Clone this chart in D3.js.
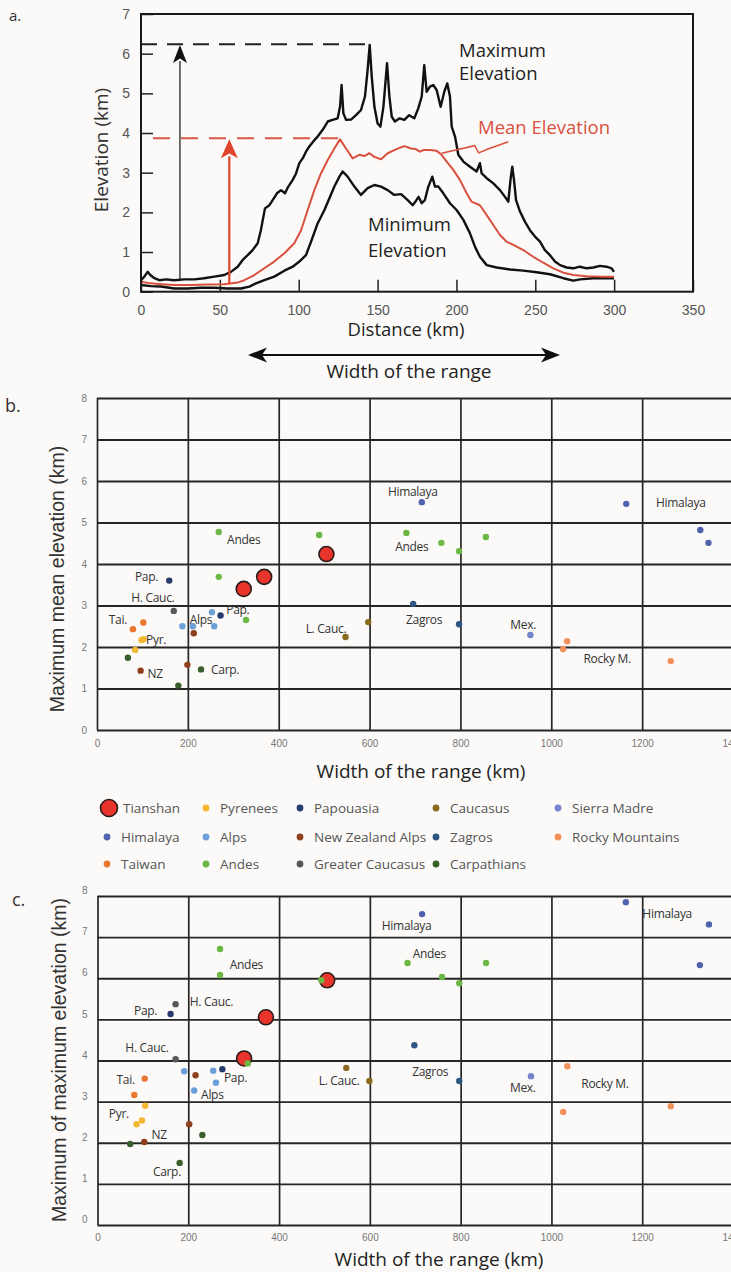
<!DOCTYPE html>
<html>
<head>
<meta charset="utf-8">
<script src="https://cdn.jsdelivr.net/npm/d3@7"></script>
<style>
  body { margin: 0; background: #fbfaf8; }
  svg { display: block; }
  .tickA text { font-family: "Liberation Sans Narrow", "Liberation Sans", sans-serif; font-size: 14px; fill: #555; }
  .tickB text { font-family: "Liberation Sans Narrow", "Liberation Sans", sans-serif; font-size: 10px; fill: #777; }
  .hum { font-family: "Open Sans", sans-serif; }
  .ari { font-family: "Liberation Sans", Arial, sans-serif; }
</style>
</head>
<body>
<svg id="fig" width="731" height="1272"></svg>
<script>
// ---------- panel a: swath profile (distance km, elevation km) ----------
var maxProfile = [[0,0.29],[2.1,0.38],[4.2,0.5],[5.9,0.42],[8.5,0.34],[11.6,0.29],[15.9,0.31],[21,0.29],
  [27.5,0.31],[33.8,0.31],[40,0.34],[46.5,0.38],[52.8,0.42],[57,0.5],[61.3,0.63],[64.5,0.8],[67.6,0.92],
  [70.8,1.05],[74,1.22],[76,1.55],[78.6,2.1],[81.4,2.18],[83.5,2.31],[86.2,2.48],[88.8,2.56],[91.3,2.48],
  [93.4,2.65],[96.2,2.82],[98.3,2.98],[100.4,3.24],[102.5,3.36],[104.6,3.53],[106.7,3.66],[109.9,3.82],
  [112,3.91],[115.2,4.08],[118.4,4.29],[121.5,4.33],[124.7,4.37],[126.2,4.66],[127.2,5.21],[128.3,4.5],
  [130,4.33],[133.2,4.34],[136.3,4.45],[139.5,4.58],[142,4.92],[143.7,5.59],[145,6.22],[146.3,5.42],
  [148,4.66],[150,4.24],[151.8,4.16],[153.7,4.66],[156,5.76],[157.5,4.92],[159,4.41],[161,4.29],
  [164,4.37],[167,4.33],[170,4.45],[173.3,4.37],[175.8,4.62],[178,4.92],[179.6,5.71],[181.1,5.04],
  [183.2,5.17],[185.3,5.21],[187.5,5.08],[190,4.66],[192.3,5.04],[194.2,5.25],[195.9,4.92],[197,4.16],
  [199.1,3.91],[201.2,3.45],[204.4,3.28],[208.6,3.15],[212.8,3.03],[214.9,3.24],[216,2.98],[219.2,2.86],
  [223.4,2.73],[227.6,2.56],[230.8,2.39],[232.9,2.27],[234.4,2.86],[235.4,3.15],[236.5,2.82],[237.8,2.31],
  [240.3,2.02],[243.5,1.76],[246.6,1.55],[249.8,1.39],[253,1.26],[256.1,1.05],[259.3,0.92],[262.5,0.76],
  [265.7,0.67],[269.9,0.61],[274.1,0.59],[278.3,0.63],[282.6,0.59],[286.8,0.61],[291,0.65],[295.2,0.63],
  [298.4,0.59],[299.9,0.5]];
var meanProfile = [[0,0.25],[6.3,0.21],[12.7,0.19],[21,0.17],[31.7,0.17],[42.3,0.18],[52.8,0.19],[61.3,0.23],
  [65.5,0.29],[71.9,0.42],[78.2,0.59],[84.5,0.76],[90.9,0.97],[97.2,1.22],[101.5,1.55],[105.7,2.06],
  [109.9,2.56],[114.1,2.98],[118.4,3.32],[122.6,3.61],[126.2,3.84],[130,3.61],[134.2,3.36],[138.4,3.45],
  [141.6,3.42],[144.8,3.49],[148,3.4],[152.2,3.34],[156.4,3.49],[160.6,3.57],[164.2,3.63],[167,3.67],
  [171.2,3.61],[174,3.6],[176.9,3.53],[179,3.57],[183.2,3.57],[187.5,3.55],[190.6,3.45],[193.8,3.28],
  [198,3.07],[202.2,2.82],[206.5,2.48],[209.6,2.27],[214.9,2.18],[219.2,1.93],[223.4,1.68],[227.6,1.43],
  [231.8,1.26],[236.1,1.18],[242.4,1.05],[248.7,0.88],[255.1,0.73],[261.4,0.59],[267.8,0.48],[274.1,0.42],
  [282.6,0.39],[291,0.38],[299.9,0.38]];
var minProfile = [[0,0.17],[6.3,0.14],[12.7,0.13],[21,0.08],[29.6,0.08],[38,0.1],[46.5,0.1],[55,0.08],
  [63.4,0.08],[68.7,0.13],[72.9,0.21],[78.2,0.29],[84.5,0.38],[90.9,0.53],[96.2,0.63],[100.4,0.76],
  [104.6,0.92],[107.8,1.26],[112,1.72],[116.3,2.06],[119.4,2.35],[122.6,2.65],[125.8,2.9],[127.9,3.03],
  [131,2.9],[135.3,2.65],[139.5,2.44],[143.7,2.61],[148,2.69],[152.2,2.65],[156.4,2.56],[160.6,2.44],
  [164.9,2.46],[169.1,2.31],[172.3,2.18],[174.5,2.3],[176,2.39],[178,2.23],[180,2.31],[182.2,2.65],
  [184.7,2.9],[186.4,2.65],[188.5,2.65],[191.7,2.48],[195.9,2.23],[200.1,2.06],[204.4,1.81],[208.6,1.47],
  [211.8,1.13],[214.9,0.88],[219.2,0.67],[225.5,0.61],[234,0.56],[242.4,0.53],[250.9,0.49],[259.3,0.44],
  [267.8,0.34],[274.1,0.28],[278.3,0.31],[286.8,0.34],[299.9,0.34]];
var peakMax = { level: 6.24, at: 145 };
var peakMean = { level: 3.87, at: 126 };
var distanceTicks = [0, 50, 100, 150, 200, 250, 300, 350];
var elevationTicks = [0, 1, 2, 3, 4, 5, 6, 7];

// ---------- panels b and c: ranges (width km, elevation km) ----------
var rangeNames = ["Tianshan", "Himalaya", "Taiwan", "Pyrenees", "Alps", "Andes", "Papouasia",
  "New Zealand Alps", "Greater Caucasus", "Caucasus", "Zagros", "Carpathians", "Sierra Madre", "Rocky Mountains"];

var meanElevation = [
  ["Tianshan", 505, 4.24], ["Tianshan", 323, 3.40], ["Tianshan", 368, 3.69],
  ["Himalaya", 715, 5.49], ["Himalaya", 1165, 5.45], ["Himalaya", 1328, 4.82], ["Himalaya", 1346, 4.51],
  ["Taiwan", 102, 2.59], ["Taiwan", 79, 2.43],
  ["Pyrenees", 98, 2.17], ["Pyrenees", 103, 2.19], ["Pyrenees", 84, 1.93],
  ["Alps", 188, 2.50], ["Alps", 211, 2.50], ["Alps", 253, 2.84], ["Alps", 258, 2.50],
  ["Andes", 268, 4.77], ["Andes", 489, 4.70], ["Andes", 681, 4.75], ["Andes", 758, 4.51],
  ["Andes", 797, 4.31], ["Andes", 856, 4.65], ["Andes", 268, 3.69], ["Andes", 328, 2.65],
  ["Papouasia", 159, 3.60], ["Papouasia", 272, 2.76],
  ["New Zealand Alps", 96, 1.43], ["New Zealand Alps", 213, 2.33], ["New Zealand Alps", 199, 1.57],
  ["Greater Caucasus", 169, 2.87],
  ["Caucasus", 547, 2.24], ["Caucasus", 597, 2.60],
  ["Zagros", 696, 3.04], ["Zagros", 797, 2.55],
  ["Carpathians", 68, 1.74], ["Carpathians", 229, 1.46], ["Carpathians", 179, 1.07],
  ["Sierra Madre", 954, 2.29],
  ["Rocky Mountains", 1035, 2.14], ["Rocky Mountains", 1026, 1.95], ["Rocky Mountains", 1263, 1.66]
];
var maxElevation = [
  ["Tianshan", 506, 5.95], ["Tianshan", 371, 5.05], ["Tianshan", 323, 4.05],
  ["Himalaya", 715, 7.56], ["Himalaya", 1164, 7.85], ["Himalaya", 1347, 7.31], ["Himalaya", 1327, 6.32],
  ["Taiwan", 104, 3.56], ["Taiwan", 81, 3.16],
  ["Pyrenees", 105, 2.90], ["Pyrenees", 98, 2.54], ["Pyrenees", 86, 2.45],
  ["Alps", 191, 3.74], ["Alps", 255, 3.75], ["Alps", 261, 3.46], ["Alps", 213, 3.27],
  ["Andes", 270, 6.71], ["Andes", 683, 6.37], ["Andes", 856, 6.37], ["Andes", 270, 6.08],
  ["Andes", 759, 6.03], ["Andes", 797, 5.88], ["Andes", 493, 5.95], ["Andes", 331, 3.93],
  ["Papouasia", 161, 5.13], ["Papouasia", 275, 3.79],
  ["New Zealand Alps", 103, 2.02], ["New Zealand Alps", 216, 3.64], ["New Zealand Alps", 202, 2.45],
  ["Greater Caucasus", 172, 5.37], ["Greater Caucasus", 172, 4.03],
  ["Caucasus", 548, 3.82], ["Caucasus", 599, 3.50],
  ["Zagros", 698, 4.37], ["Zagros", 797, 3.50],
  ["Carpathians", 72, 1.97], ["Carpathians", 231, 2.19], ["Carpathians", 181, 1.51],
  ["Sierra Madre", 955, 3.62],
  ["Rocky Mountains", 1035, 3.86], ["Rocky Mountains", 1026, 2.75], ["Rocky Mountains", 1263, 2.89]
];
var meanLabels = [["Himalaya", 695, 5.74], ["Himalaya", 1285, 5.48], ["Andes", 323, 4.58], ["Andes", 693, 4.42],
  ["Pap.", 109, 3.69], ["H. Cauc.", 123, 3.20], ["Tai.", 46, 2.67], ["Pyr.", 130, 2.17], ["Alps", 229, 2.65],
  ["Pap.", 310, 2.89], ["NZ", 128, 1.35], ["Carp.", 282, 1.45], ["L. Cauc.", 504, 2.45], ["Zagros", 720, 2.65],
  ["Mex.", 938, 2.53], ["Rocky M.", 1123, 1.73]];
var maxLabels = [["Himalaya", 681, 7.29], ["Himalaya", 1255, 7.57], ["Andes", 328, 6.34], ["Andes", 731, 6.59],
  ["H. Cauc.", 251, 5.43], ["Pap.", 106, 5.21], ["H. Cauc.", 109, 4.32], ["Tai.", 62, 3.54], ["Pap.", 304, 3.59],
  ["Alps", 253, 3.18], ["Pyr.", 47, 2.71], ["NZ", 136, 2.20], ["Carp.", 153, 1.30], ["L. Cauc.", 532, 3.51],
  ["Zagros", 733, 3.73], ["Mex.", 937, 3.35], ["Rocky M.", 1118, 3.43]];
var widthTicks = [0, 200, 400, 600, 800, 1000, 1200, 1400];
var scatterTicks = [0, 1, 2, 3, 4, 5, 6, 7, 8];

// colours per range
var colors = {
  "Tianshan": "#e8342b", "Himalaya": "#4f62ad", "Taiwan": "#e9772f", "Pyrenees": "#f4b731",
  "Alps": "#6d9fd8", "Andes": "#6cb844", "Papouasia": "#263a6e", "New Zealand Alps": "#8e3f1c",
  "Greater Caucasus": "#555955", "Caucasus": "#8a6a1c", "Zagros": "#2e5683", "Carpathians": "#3a5e2a",
  "Sierra Madre": "#7383cc", "Rocky Mountains": "#f2925a"
};

var svg = d3.select("#fig");
var intFmt = d3.format("d");

// ================= panel a =================
var xA = d3.scaleLinear().domain([0, 350]).range([141, 693]);
var yA = d3.scaleLinear().domain([0, 7]).range([291.7, 14]);

svg.append("text").attr("class", "hum").attr("x", 9).attr("y", 21)
  .attr("font-size", 15).attr("fill", "#333").text("a.");

var gA = svg.append("g");

gA.append("g").attr("class", "tickA")
  .attr("transform", "translate(0," + yA(0) + ")")
  .call(d3.axisBottom(xA).tickValues(distanceTicks).tickFormat(intFmt)
    .tickSizeInner(-12).tickSizeOuter(0).tickPadding(13))
  .call(function(g) { g.select(".domain").remove(); g.selectAll("line").attr("stroke", "#222").attr("stroke-width", 1.5); });

gA.append("g").attr("class", "tickA")
  .attr("transform", "translate(" + xA(0) + ",0)")
  .call(d3.axisLeft(yA).tickValues(elevationTicks).tickFormat(intFmt)
    .tickSizeInner(-12).tickSizeOuter(0).tickPadding(11))
  .call(function(g) { g.select(".domain").remove(); g.selectAll("line").attr("stroke", "#222").attr("stroke-width", 1.5); });

// dashed reference lines
gA.append("line")
  .attr("x1", xA(0)).attr("x2", xA(peakMax.at))
  .attr("y1", yA(peakMax.level)).attr("y2", yA(peakMax.level))
  .attr("stroke", "#222").attr("stroke-width", 2).attr("stroke-dasharray", "16,10");
gA.append("line")
  .attr("x1", xA(0)).attr("x2", xA(peakMean.at))
  .attr("y1", yA(peakMean.level)).attr("y2", yA(peakMean.level))
  .attr("stroke", "#d9574a").attr("stroke-width", 2).attr("stroke-dasharray", "17,11")
  .attr("stroke-dashoffset", -12);

var line = d3.line().x(function(d) { return xA(d[0]); }).y(function(d) { return yA(d[1]); });

gA.append("path").datum(maxProfile).attr("d", line)
  .attr("fill", "none").attr("stroke", "#111").attr("stroke-width", 2.4).attr("stroke-linejoin", "round");
gA.append("path").datum(minProfile).attr("d", line)
  .attr("fill", "none").attr("stroke", "#111").attr("stroke-width", 2.4).attr("stroke-linejoin", "round");
gA.append("path").datum(meanProfile).attr("d", line)
  .attr("fill", "none").attr("stroke", "#d9503f").attr("stroke-width", 2).attr("stroke-linejoin", "round");

// vertical arrows
function arrow(x, y0, y1, color, width, headLen, headHalf) {
  var px = xA(x), p0 = yA(y0), p1 = yA(y1);
  gA.append("line").attr("x1", px).attr("x2", px).attr("y1", p0).attr("y2", p1 + headLen - 2)
    .attr("stroke", color).attr("stroke-width", width);
  gA.append("path")
    .attr("d", "M" + px + "," + p1 + "L" + (px - headHalf) + "," + (p1 + headLen) +
      "L" + px + "," + (p1 + headLen * 0.75) + "L" + (px + headHalf) + "," + (p1 + headLen) + "Z")
    .attr("fill", color);
}
arrow(24.7, 0.29, peakMax.level - 0.02, "#111", 1.2, 18, 7);
arrow(56, 0.19, peakMean.level - 0.03, "#e0442c", 2.2, 19, 8.5);

// pointer from the mean curve to its label
var squiggle = [[190.6, 3.49], [211.6, 3.68], [214.1, 3.5], [219.6, 3.59], [232.9, 3.78]];
gA.append("path").datum(squiggle).attr("d", line)
  .attr("fill", "none").attr("stroke", "#d9503f").attr("stroke-width", 1.5);

// frame
gA.append("rect").attr("x", xA(0)).attr("y", yA(7))
  .attr("width", xA(350) - xA(0)).attr("height", yA(0) - yA(7))
  .attr("fill", "none").attr("stroke", "#1a1a1a").attr("stroke-width", 2);

// curve names
var curveNames = [["Maximum", 459, 50, "#222"], ["Elevation", 459, 73, "#222"],
  ["Mean Elevation", 478, 127, "#d9503f"], ["Minimum", 368, 224, "#222"], ["Elevation", 368, 250, "#222"]];
gA.selectAll(".cname").data(curveNames).enter().append("text")
  .attr("class", "hum").attr("x", function(d) { return d[1]; }).attr("y", function(d) { return d[2]; })
  .attr("dy", "0.36em").attr("font-size", 18.5).attr("fill", function(d) { return d[3]; })
  .text(function(d) { return d[0]; });

// axis titles
gA.append("text").attr("class", "hum").attr("transform", "translate(101,150) rotate(-90)")
  .attr("text-anchor", "middle").attr("dy", "0.36em").attr("font-size", 19).attr("fill", "#333")
  .text("Elevation (km)");
gA.append("text").attr("class", "hum").attr("x", 406).attr("y", 329)
  .attr("text-anchor", "middle").attr("dy", "0.36em").attr("font-size", 18.5).attr("fill", "#222")
  .text("Distance (km)");

// width arrow
var wy = 355, wx0 = 248, wx1 = 560;
svg.append("line").attr("x1", wx0 + 10).attr("x2", wx1 - 10).attr("y1", wy).attr("y2", wy)
  .attr("stroke", "#111").attr("stroke-width", 2);
svg.append("path").attr("d", "M" + wx0 + "," + wy + "L" + (wx0 + 19) + "," + (wy - 7.5) + "L" + (wx0 + 14) + "," + wy +
  "L" + (wx0 + 19) + "," + (wy + 7.5) + "Z").attr("fill", "#111");
svg.append("path").attr("d", "M" + wx1 + "," + wy + "L" + (wx1 - 19) + "," + (wy - 7.5) + "L" + (wx1 - 14) + "," + wy +
  "L" + (wx1 - 19) + "," + (wy + 7.5) + "Z").attr("fill", "#111");
svg.append("text").attr("class", "hum").attr("x", 409).attr("y", 371)
  .attr("text-anchor", "middle").attr("dy", "0.36em").attr("font-size", 19).attr("fill", "#222")
  .text("Width of the range");

// ================= panels b and c =================
function scatterPanel(opt) {
  var x = d3.scaleLinear().domain([0, 1400]).range(opt.xRange);
  var y = d3.scaleLinear().domain([0, 8]).range(opt.yRange);
  var g = svg.append("g");

  g.append("g").attr("class", "tickB")
    .attr("transform", "translate(0," + y(0) + ")")
    .call(d3.axisBottom(x).tickValues(widthTicks).tickFormat(intFmt)
      .tickSizeInner(-(y(0) - y(8))).tickSizeOuter(0).tickPadding(opt.xPad))
    .call(function(s) { s.select(".domain").remove(); s.selectAll("line").attr("stroke", "#262626").attr("stroke-width", 1.7); });

  g.append("g").attr("class", "tickB")
    .attr("transform", "translate(" + x(0) + ",0)")
    .call(d3.axisLeft(y).tickValues(scatterTicks).tickFormat(intFmt)
      .tickSizeInner(-(x(1400) - x(0))).tickSizeOuter(0).tickPadding(10))
    .call(function(s) {
      s.select(".domain").remove();
      s.selectAll("line").attr("stroke", "#262626").attr("stroke-width", 1.8);
      s.selectAll("text").attr("transform", "translate(0," + opt.yLabelShift + ")");
    });

  g.selectAll(".pt").data(opt.points).enter().append("circle")
    .attr("cx", function(d) { return x(d[1]); })
    .attr("cy", function(d) { return y(d[2]); })
    .attr("r", function(d) { return d[0] === "Tianshan" ? 7.5 : 3.2; })
    .attr("fill", function(d) { return colors[d[0]]; })
    .attr("stroke", function(d) { return d[0] === "Tianshan" ? "#2a1a1a" : "none"; })
    .attr("stroke-width", 1.6);

  g.selectAll(".lab").data(opt.labels).enter().append("text")
    .attr("class", "hum").attr("x", function(d) { return x(d[1]); }).attr("y", function(d) { return y(d[2]); })
    .attr("text-anchor", "middle").attr("dy", "0.36em").attr("font-size", 12).attr("fill", "#333")
    .attr("letter-spacing", -0.3)
    .text(function(d) { return d[0]; });

  g.append("text").attr("class", "ari")
    .attr("transform", "translate(" + opt.yTitle[0] + "," + opt.yTitle[1] + ") rotate(-90)")
    .attr("text-anchor", "middle").attr("dy", "0.36em").attr("font-size", 19.5).attr("fill", "#333")
    .text(opt.yTitleText);
  g.append("text").attr("class", "hum").attr("x", opt.xTitle[0]).attr("y", opt.xTitle[1])
    .attr("text-anchor", "middle").attr("dy", "0.36em").attr("font-size", 19).attr("fill", "#222")
    .text("Width of the range (km)");

  svg.append("text").attr("class", "hum").attr("x", opt.tag[0]).attr("y", opt.tag[1])
    .attr("font-size", 18).attr("fill", "#333").text(opt.tagText);
}

scatterPanel({
  xRange: [97, 733], yRange: [730, 398], xPad: 10, yLabelShift: 0,
  points: meanElevation, labels: meanLabels,
  yTitle: [57, 579], yTitleText: "Maximum mean elevation (km)",
  xTitle: [421, 771], tag: [5, 412], tagText: "b."
});
scatterPanel({
  xRange: [97.5, 733], yRange: [1225, 896], xPad: 9, yLabelShift: -5.5,
  points: maxElevation, labels: maxLabels,
  yTitle: [59, 1060], yTitleText: "Maximum of maximum elevation (km)",
  xTitle: [439, 1259], tag: [12, 906], tagText: "c."
});

// ================= legend =================
var legCols = [107, 206, 300, 436, 558];
var legRows = [808, 837, 864];
var leg = svg.append("g").selectAll("g").data(rangeNames).enter().append("g")
  .attr("transform", function(d, i) {
    return "translate(" + legCols[Math.floor(i / 3)] + "," + legRows[i % 3] + ")";
  });
leg.append("circle")
  .attr("cx", function(d) { return d === "Tianshan" ? 2 : 0; })
  .attr("r", function(d) { return d === "Tianshan" ? 8.5 : 3.4; })
  .attr("fill", function(d) { return colors[d]; })
  .attr("stroke", function(d) { return d === "Tianshan" ? "#2a1a1a" : "none"; })
  .attr("stroke-width", 1.6);
leg.append("text").attr("class", "hum")
  .attr("x", function(d) { return d === "Tianshan" ? 16 : 14; })
  .attr("dy", "0.36em").attr("font-size", 13.5).attr("fill", "#555")
  .text(function(d) { return d; });
</script>
</body>
</html>
